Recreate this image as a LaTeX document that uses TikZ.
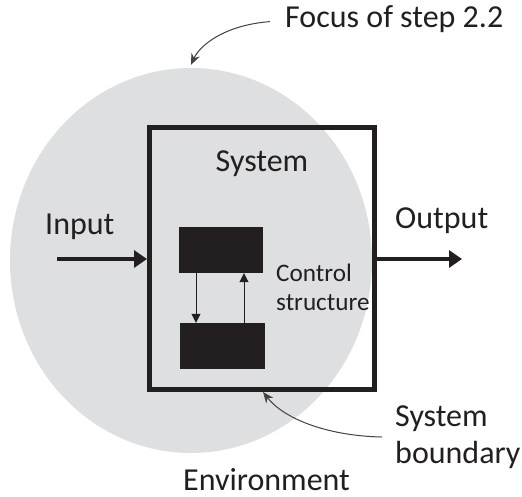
\documentclass[tikz,border=0pt]{standalone}
\usepackage{fontspec}
\setmainfont{Carlito}
\usetikzlibrary{arrows.meta,shapes.geometric}
\definecolor{ink}{RGB}{35,31,32}
\definecolor{envgray}{RGB}{222,223,224}
\tikzset{
  label31/.style={inner sep=0pt, text=ink, font=\fontsize{32}{37}\selectfont},
  label24/.style={inner sep=0pt, text=ink, font=\fontsize{25.2}{29}\selectfont},
  blockbox/.style={fill=ink, draw=none, inner sep=0pt},
  flowarrow/.style={draw=ink, line width=4pt, -{Triangle[length=13pt,width=17pt]}},
  thinarrow/.style={draw=ink, line width=1pt, -{Triangle[length=9pt,width=9pt]}},
  curvearrow/.style={draw=ink!85, line width=1pt, -{Stealth[length=11pt,width=9pt]}},
}
\begin{document}
\begin{tikzpicture}[x=1pt,y=-1pt]
  \useasboundingbox (0,0) rectangle (522,496);

  % environment disc
  \node (env) [ellipse, fill=envgray, inner sep=0pt,
    minimum width=362pt, minimum height=385pt] at (191,260.5) {};

  % system boundary
  \node (sys) [draw=ink, line width=5pt, inner sep=0pt,
    minimum width=225pt, minimum height=262pt] at (262,258.5) {};

  % control structure blocks
  \node (top) [blockbox, minimum width=84pt, minimum height=46pt] at (221,250) {};
  \node (bot) [blockbox, minimum width=85pt, minimum height=46pt] at (222.5,346) {};
  \coordinate (downx) at (196,0);
  \coordinate (upx) at (244,0);
  \draw[thinarrow] (top.south -| downx) -- (bot.north -| downx);
  \draw[thinarrow] (bot.north -| upx) -- (top.south -| upx);

  % labels (multi-line nodes are placed by the baseline of their last line)
  \node (systxt) [label31, anchor=base] at (262,171) {System};
  \node (intxt) [label31, anchor=base west] at (45,234) {Input};
  \node (outtxt) [label31, anchor=base west] at (395,228) {Output};
  \node (ctrl) [label24, anchor=base west, align=left] at (276,310) {Control\\structure};
  \node (bound) [label31, anchor=base west, align=left] at (395,463) {System\\boundary};
  \node (envtxt) [label31, anchor=base west] at (183,490) {Environment};
  \node (focus) [label31, anchor=base west] at (285,27) {Focus of step 2.2};

  % input and output flows
  \coordinate (instart) at (57,259);
  \coordinate (outend) at (462,259);
  \draw[flowarrow] (instart) -- (sys.west |- instart);
  \draw[flowarrow] (sys.east |- outend) -- (outend);

  % pointers to the focus and the boundary
  \draw[curvearrow] ([xshift=-15pt,yshift=-3pt]focus.west)
    .. controls (225,25) and (200,45) .. ([yshift=3pt]env.north);
  \coordinate (bstart) at (382,437);
  \draw[curvearrow] (bstart) .. controls (330,436) and (285,420) .. ([xshift=1pt]sys.south);
\end{tikzpicture}
\end{document}
